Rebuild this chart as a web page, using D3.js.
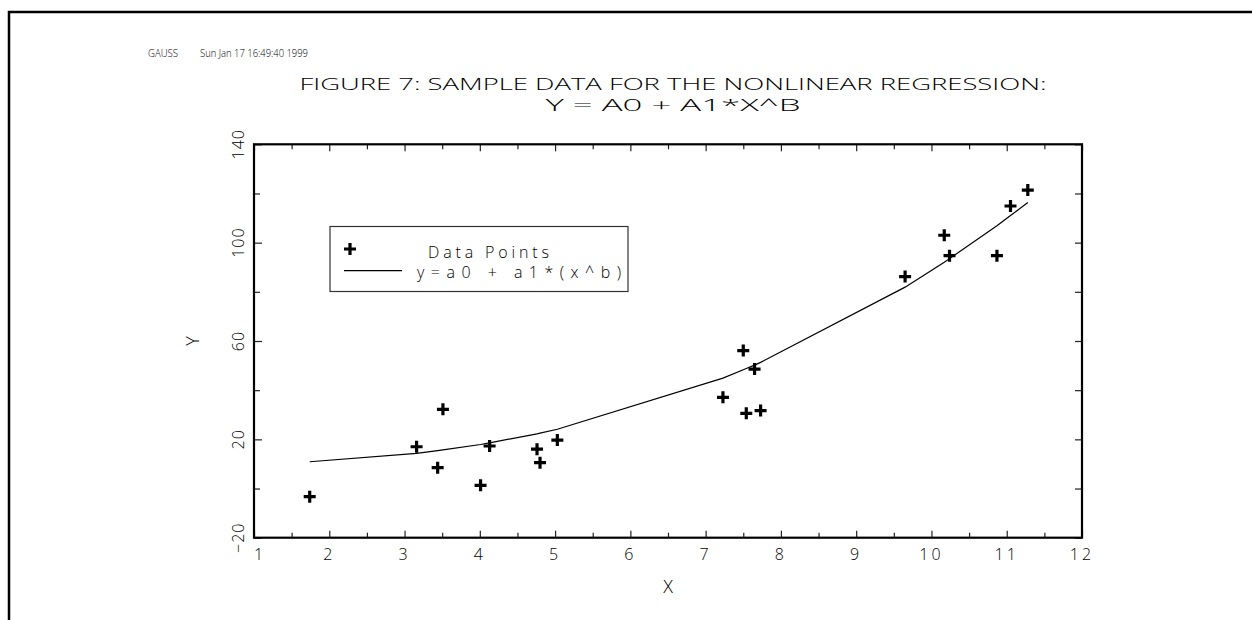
<!DOCTYPE html>
<html>
<head>
<meta charset="utf-8">
<script src="https://cdn.jsdelivr.net/npm/d3@7"></script>
<style>
  html, body { margin: 0; padding: 0; background: #fff; }
  svg { display: block; }
  text { font-family: "Open Sans", "Liberation Sans", sans-serif; font-weight: 300; fill: #000; }
</style>
</head>
<body>
<div id="chart"></div>
<script>
// Sample data.
const dataX = [1.74, 3.16, 3.51, 3.44, 4.01, 4.13, 4.76, 4.80, 5.03,
               7.23, 7.50, 7.54, 7.73, 7.65, 9.65, 10.17, 10.24, 10.87, 11.05, 11.28];
const dataY = [-3.3, 17.0, 32.2, 8.5, 1.3, 17.3, 16.0, 10.5, 19.7,
               37.1, 56.1, 30.6, 31.7, 48.6, 86.2, 103.0, 94.7, 94.7, 114.9, 121.4];

// Fitted curve y = a0 + a1*(x^b), evaluated at the sorted sample x values.
const fitX = [1.74, 3.16, 3.44, 3.51, 4.01, 4.13, 4.76, 4.80, 5.03,
              7.23, 7.50, 7.54, 7.65, 7.73, 9.65, 10.17, 10.24, 10.87, 11.05, 11.28];
const fitY = [10.9, 14.3, 15.4, 15.7, 17.9, 18.6, 22.2, 22.5, 24.1,
              44.9, 48.3, 48.8, 50.2, 51.3, 81.9, 92.0, 93.5, 106.9, 111.0, 116.3];

const xTicks = [1, 2, 3, 4, 5, 6, 7, 8, 9, 10, 11, 12];
const xMinor = [1.5, 2.5, 3.5, 4.5, 5.5, 6.5, 7.5, 8.5, 9.5, 10.5, 11.5];
const yTicks = [-20, 20, 60, 100, 140];
const yMinor = [0, 40, 80, 120];

const header = ["GAUSS", "Sun Jan 17 16:49:40 1999"];
const titleLines = ["FIGURE 7: SAMPLE DATA FOR THE NONLINEAR REGRESSION:", "Y = A0 + A1*X^B"];
const legendLabels = ["Data Points", "y=a0 + a1*(x^b)"];

const width = 1252, height = 620;
const plot = {left: 254, right: 1082, top: 144.3, bottom: 537.7};

const svg = d3.select("#chart").append("svg")
    .attr("width", width)
    .attr("height", height)
    .attr("viewBox", [0, 0, width, height]);

// page frame (top and left edges only)
svg.append("path")
    .attr("d", `M1252,12H9V620`)
    .attr("fill", "none")
    .attr("stroke", "#000")
    .attr("stroke-width", 2.5);

const x = d3.scaleLinear().domain([1, 12]).range([plot.left, plot.right]);
const y = d3.scaleLinear().domain([-20, 140]).range([plot.bottom, plot.top]);

// header line
svg.append("text").attr("x", 148).attr("y", 57)
    .attr("font-size", 10).attr("font-weight", 400)
    .attr("textLength", 30).attr("lengthAdjust", "spacingAndGlyphs")
    .text(header[0]);
svg.append("text").attr("x", 200).attr("y", 57)
    .attr("font-size", 10).attr("font-weight", 400)
    .attr("textLength", 108).attr("lengthAdjust", "spacingAndGlyphs")
    .text(header[1]);

// title
const titleWidths = [747, 255];
svg.append("g").selectAll("text")
    .data(titleLines)
    .join("text")
        .attr("x", 673)
        .attr("y", (d, i) => 90 + i * 21)
        .attr("text-anchor", "middle")
        .attr("font-size", 17)
        .attr("textLength", (d, i) => titleWidths[i])
        .attr("lengthAdjust", "spacingAndGlyphs")
        .text(d => d);

// axes: inward ticks on all four sides
function ticks(g, axis, values, size) {
    g.call(axis.tickValues(values).tickSizeInner(-size).tickSizeOuter(0).tickFormat(""))
        .call(s => s.select(".domain").remove())
        .call(s => s.selectAll(".tick line").attr("stroke", "#222").attr("stroke-width", 1.2));
}
const gx = svg.append("g").attr("transform", `translate(0,${plot.bottom})`);
ticks(gx.append("g"), d3.axisBottom(x), xTicks, 7);
ticks(gx.append("g"), d3.axisBottom(x), xMinor, 5);
const gxt = svg.append("g").attr("transform", `translate(0,${plot.top})`);
ticks(gxt.append("g"), d3.axisTop(x), xTicks, 7);
ticks(gxt.append("g"), d3.axisTop(x), xMinor, 5);
const gy = svg.append("g").attr("transform", `translate(${plot.left},0)`);
ticks(gy.append("g"), d3.axisLeft(y), yTicks, 8);
ticks(gy.append("g"), d3.axisLeft(y), yMinor, 6);
const gyr = svg.append("g").attr("transform", `translate(${plot.right},0)`);
ticks(gyr.append("g"), d3.axisRight(y), yTicks, 7);
ticks(gyr.append("g"), d3.axisRight(y), yMinor, 7);

// plot frame
svg.append("rect")
    .attr("x", plot.left).attr("y", plot.top)
    .attr("width", plot.right - plot.left).attr("height", plot.bottom - plot.top)
    .attr("fill", "none").attr("stroke", "#000").attr("stroke-width", 2.2);

// tick labels
svg.append("g").selectAll("text")
    .data(xTicks)
    .join("text")
        .attr("x", d => x(d) + (d === 1 ? 6 : 0))
        .attr("y", 560)
        .attr("text-anchor", "middle")
        .attr("font-size", 16)
        .attr("letter-spacing", 3)
        .text(d => d);
svg.append("g").selectAll("text")
    .data(yTicks)
    .join("text")
        .attr("transform", d => `translate(244,${y(d)}) rotate(-90)`)
        .attr("text-anchor", "middle")
        .attr("font-size", 16)
        .attr("letter-spacing", 1)
        .text(d => d < 0 ? "\u2212" + Math.abs(d) : d);

// axis titles
svg.append("text").attr("x", 668).attr("y", 593)
    .attr("text-anchor", "middle").attr("font-size", 18).text("X");
svg.append("text").attr("transform", `translate(199,341) rotate(-90)`)
    .attr("text-anchor", "middle").attr("font-size", 18).text("Y");

// fitted line
const line = d3.line().x(d => x(d[0])).y(d => y(d[1]));
svg.append("path")
    .datum(d3.zip(fitX, fitY))
    .attr("d", line)
    .attr("fill", "none")
    .attr("stroke", "#000")
    .attr("stroke-width", 1.2);

// data points as bold crosses
const cross = "M-6,0H6M0,-6V6";
svg.append("g").selectAll("path")
    .data(d3.zip(dataX, dataY))
    .join("path")
        .attr("transform", d => `translate(${x(d[0])},${y(d[1])})`)
        .attr("d", cross)
        .attr("stroke", "#000")
        .attr("stroke-width", 3.2);

// legend
const legend = svg.append("g");
legend.append("rect")
    .attr("x", 330).attr("y", 226.5).attr("width", 298).attr("height", 65)
    .attr("fill", "#fff").attr("stroke", "#333").attr("stroke-width", 1.2);
legend.append("path")
    .attr("transform", "translate(350,249)")
    .attr("d", cross)
    .attr("stroke", "#000").attr("stroke-width", 3.2);
legend.append("path")
    .attr("d", "M344,270.7H402")
    .attr("stroke", "#000").attr("stroke-width", 1.2);
legend.append("text").attr("x", 428).attr("y", 257.5)
    .attr("font-size", 16).attr("textLength", 121).attr("lengthAdjust", "spacing")
    .text(legendLabels[0]);
legend.append("text").attr("x", 417).attr("y", 278)
    .attr("font-size", 16).attr("textLength", 204).attr("lengthAdjust", "spacing")
    .text(legendLabels[1]);
</script>
</body>
</html>
